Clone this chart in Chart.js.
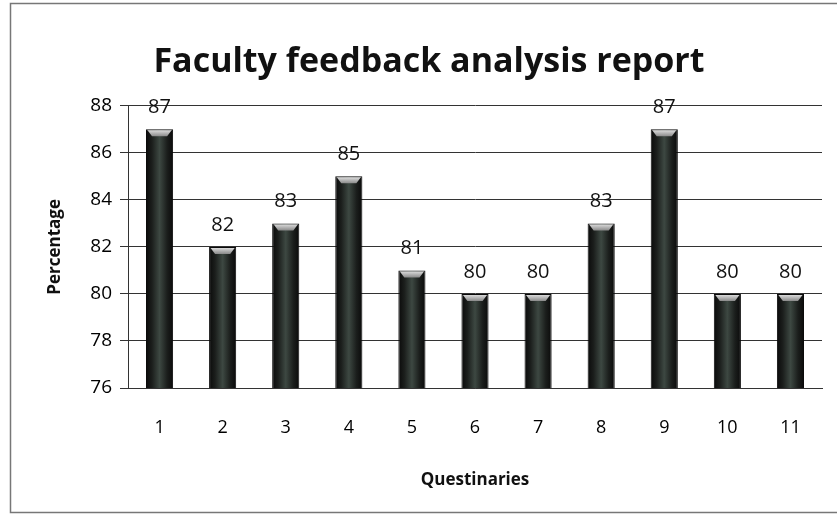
<!DOCTYPE html>
<html>
<head>
<meta charset="utf-8">
<script src="https://cdn.jsdelivr.net/npm/chart.js@4/dist/chart.umd.min.js"></script>
<style>
  html, body { margin: 0; padding: 0; background: #fff; }
  #wrap { width: 837px; height: 517px; }
</style>
</head>
<body>
<div id="wrap"><canvas id="chart" width="837" height="517"></canvas></div>
<script>
// chart data
const questions = ['1', '2', '3', '4', '5', '6', '7', '8', '9', '10', '11'];
const percentValues = [87, 82, 83, 85, 81, 80, 80, 83, 87, 80, 80];
const yTicks = [76, 78, 80, 82, 84, 86, 88];

const fontName = '"Open Sans", Lato, sans-serif';
const barShare = 0.43;

// outer frame of the chart box
const framePlugin = {
    id: 'frame',
    beforeDraw(chart) {
        const c = chart.ctx;
        c.save();
        c.fillStyle = '#fff';
        c.fillRect(0, 0, chart.width, chart.height);
        c.strokeStyle = '#777';
        c.lineWidth = 1.5;
        c.strokeRect(10.5, 3.5, chart.width + 10, chart.height - 8);
        c.restore();
    }
};

// cylinder shading, computed per bar from the x scale
function barShade(ctx) {
    const chart = ctx.chart;
    const xs = chart.scales.x;
    if (!xs || ctx.dataIndex == null) return '#222';
    const cx = xs.getPixelForValue(ctx.dataIndex);
    const w = (xs.width / questions.length) * barShare;
    if (!isFinite(cx) || !isFinite(w) || w <= 0) return '#222';
    const g = chart.ctx.createLinearGradient(cx - w / 2, 0, cx + w / 2, 0);
    g.addColorStop(0, '#0a0a0a');
    g.addColorStop(0.22, '#1b1e1c');
    g.addColorStop(0.5, '#3d4842');
    g.addColorStop(0.78, '#1b1e1c');
    g.addColorStop(1, '#0a0a0a');
    return g;
}

// top cap and value labels
const capPlugin = {
    id: 'caps',
    afterDatasetsDraw(chart) {
        const c = chart.ctx;
        c.save();
        chart.getDatasetMeta(0).data.forEach(function(bar, i) {
            const l = bar.x - bar.width / 2;
            const r = bar.x + bar.width / 2;
            const g = c.createLinearGradient(0, bar.y, 0, bar.y + 7);
            g.addColorStop(0, '#e8e8e8');
            g.addColorStop(1, '#8a8a8a');
            c.fillStyle = g;
            c.beginPath();
            c.moveTo(l + 1.5, bar.y + 1);
            c.lineTo(r - 1.5, bar.y + 1);
            c.lineTo(r - 6, bar.y + 7);
            c.lineTo(l + 6, bar.y + 7);
            c.closePath();
            c.fill();

            c.fillStyle = '#111';
            c.font = '20px ' + fontName;
            c.textAlign = 'center';
            c.textBaseline = 'middle';
            c.fillText(String(percentValues[i]), bar.x, bar.y - 22);
        });
        c.restore();
    }
};

new Chart(document.getElementById('chart'), {
    type: 'bar',
    data: {
        labels: questions,
        datasets: [{
            label: 'Percentage',
            data: percentValues,
            backgroundColor: barShade,
            borderColor: '#0a0a0a',
            borderWidth: 1,
            barPercentage: barShare,
            categoryPercentage: 1.0
        }]
    },
    options: {
        responsive: false,
        animation: false,
        layout: {
            padding: { left: 36, right: 15, top: 0, bottom: 27 }
        },
        plugins: {
            legend: { display: false },
            tooltip: { enabled: false },
            title: {
                display: true,
                text: 'Faculty feedback analysis report',
                color: '#111',
                font: { family: fontName, size: 34, weight: 'bold' },
                padding: { top: 42, bottom: 23 }
            }
        },
        scales: {
            x: {
                grid: { display: false, drawTicks: false },
                border: { display: true, color: '#333', width: 1 },
                ticks: {
                    color: '#000',
                    padding: 29,
                    font: { family: fontName, size: 18 }
                },
                title: {
                    display: true,
                    text: 'Questinaries',
                    color: '#111',
                    padding: { top: 2, bottom: 0 },
                    font: { family: fontName, size: 17, weight: 'bold' }
                }
            },
            y: {
                min: 76,
                max: 88,
                afterFit: function(scale) { scale.width = 92; },
                afterBuildTicks: function(scale) {
                    scale.ticks = yTicks.map(v => ({ value: v }));
                },
                grid: { color: '#333', lineWidth: 1, tickLength: 8 },
                border: { display: true, color: '#333', width: 1 },
                ticks: {
                    color: '#000',
                    padding: 8,
                    font: { family: fontName, size: 19 }
                },
                title: {
                    display: true,
                    text: 'Percentage',
                    color: '#111',
                    padding: { top: 9, bottom: 0 },
                    font: { family: fontName, size: 17, weight: 'bold' }
                }
            }
        }
    },
    plugins: [framePlugin, capPlugin]
});
</script>
</body>
</html>
